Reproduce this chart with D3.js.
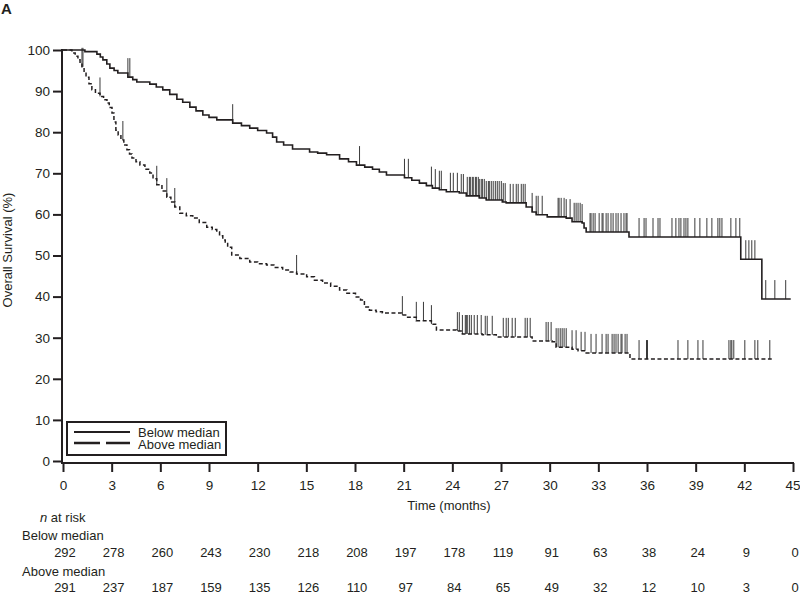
<!DOCTYPE html>
<html><head><meta charset="utf-8">
<script src="https://cdn.jsdelivr.net/npm/d3@7"></script>
<style>
html,body{margin:0;padding:0;background:#fff;}
svg{display:block;font-family:"Liberation Sans",Arial,sans-serif;}
</style></head>
<body>
<svg id="chart" width="800" height="595"></svg>
<script>
// ---- data ----
const xTicks = [0,3,6,9,12,15,18,21,24,27,30,33,36,39,42,45];
const yTicks = [0,10,20,30,40,50,60,70,80,90,100];

const belowTimes = [0,1.35,2.09,2.3,2.46,2.7,2.89,3.15,3.38,4.0,4.3,4.55,5.35,5.75,6.15,6.58,7.02,7.38,7.82,8.2,8.62,9.0,9.48,10.46,11.0,11.51,12.0,12.55,12.92,13.17,13.6,14.15,15.2,15.7,16.25,17.05,17.6,18.09,18.6,19.08,19.5,19.94,21.05,21.5,21.97,22.4,22.77,23.2,23.63,24.43,24.86,25.66,26.09,27.08,27.32,28.55,28.92,29.17,29.85,31.02,31.38,32.0,32.12,32.25,34.89,41.78,43.08];
const belowSurv  = [100,99.6,99.0,98.3,97.6,96.6,95.6,95.0,94.4,93.4,92.8,92.2,91.7,91.0,90.3,89.2,88.0,87.3,86.1,85.2,84.2,83.6,83.0,82.2,81.6,81.0,80.4,79.8,78.8,77.6,76.9,75.9,75.2,74.9,74.5,73.5,72.8,72.0,71.5,71.0,70.3,69.6,68.9,68.3,67.6,67.0,66.4,66.0,65.5,65.2,64.5,64.0,63.5,63.0,62.8,61.8,60.6,59.9,59.4,59.1,58.2,57.9,56.7,55.7,54.5,49.1,39.4];
const belowEnd = 44.86;

const aboveTimes = [0,0.55,0.75,0.92,1.05,1.17,1.3,1.42,1.6,1.78,2.0,2.28,2.5,2.71,2.85,3.02,3.14,3.26,3.4,3.57,3.75,3.94,4.1,4.25,4.5,4.74,5.05,5.35,5.55,5.78,6.1,6.4,6.65,6.89,7.2,7.6,8.0,8.4,8.86,9.2,9.48,9.65,9.85,10.0,10.15,10.4,10.9,11.51,12.0,12.55,13.0,13.54,14.0,14.4,15.02,15.5,16.0,16.5,17.05,17.5,18.03,18.34,18.58,18.89,19.3,19.69,20.86,21.17,21.78,22.71,23.02,24.25,24.62,25.85,26.71,28.92,30.15,30.4,31.38,31.75,32.25,34.95];
const aboveSurv  = [100,99.3,98.5,97.6,96.8,95.9,94.6,93.4,91.8,90.3,89.5,88.7,87.9,87.1,86.0,84.7,82.5,80.5,79.3,78.1,76.9,75.7,74.7,73.7,72.8,72.0,71.0,70.1,68.7,67.2,65.7,64.2,63.0,61.8,60.3,59.7,59.1,58.0,56.9,56.3,55.7,54.8,53.8,52.9,52.0,50.1,49.3,48.4,48.0,47.7,47.1,46.5,46.0,45.5,44.8,44.0,43.3,42.5,41.6,40.8,39.9,39.2,37.5,36.7,36.3,36.0,35.5,35.0,34.1,33.3,31.9,31.6,30.9,30.7,30.2,29.2,29.0,27.7,27.2,26.8,26.3,24.8];
const aboveEnd = 43.69;

const belowCensor = [4.0,4.12,10.46,18.28,21.05,21.29,22.71,22.95,23.2,23.32,23.88,24.06,24.31,24.55,24.68,24.92,25.05,25.11,25.23,25.29,25.42,25.48,25.6,25.66,25.78,25.85,25.97,26.09,26.22,26.28,26.4,26.52,26.65,26.77,26.89,27.02,27.14,27.26,27.57,27.75,27.94,28.06,28.25,28.37,28.49,28.92,29.17,29.29,29.54,30.52,30.58,30.71,30.89,31.02,31.26,31.51,31.63,31.75,31.88,32.0,32.49,32.55,32.68,32.8,33.05,33.23,33.29,33.48,33.6,33.78,33.91,34.09,34.22,34.4,34.58,34.71,34.77,35.51,35.82,35.94,36.37,36.68,36.8,37.54,37.78,37.97,38.09,38.28,38.4,38.52,38.95,39.26,39.69,40.0,40.37,40.49,40.62,41.17,41.48,41.72,42.09,42.28,42.46,42.65,43.32,43.88,44.55];
const aboveCensor = [1.17,1.23,2.28,3.69,5.78,6.4,6.89,14.4,20.92,21.78,22.22,22.71,24.31,24.43,24.62,24.8,24.86,24.92,25.05,25.17,25.35,25.54,25.78,26.03,26.15,26.46,27.14,27.32,27.45,27.69,27.88,28.49,28.62,28.8,29.78,29.91,30.09,30.4,30.52,30.65,30.77,30.89,31.02,31.38,31.63,31.94,32.18,32.55,32.86,33.23,33.48,33.6,33.85,33.97,34.09,34.22,34.4,34.46,34.65,34.77,35.51,35.97,36.03,37.91,38.52,39.14,39.45,41.05,41.17,41.23,41.35,42.03,42.65,42.83,43.57];

const riskTimes = [0,3,6,9,12,15,18,21,24,27,30,33,36,39,42,45];
const belowRisk = [292,278,260,243,230,218,208,197,178,119,91,63,38,24,9,0];
const aboveRisk = [291,237,187,159,135,126,110,97,84,65,49,32,12,10,3,0];

// ---- drawing ----
const ink = "#231f20";
const svg = d3.select("#chart");
const x = d3.scaleLinear().domain([0,45]).range([63,793]);
const y = d3.scaleLinear().domain([0,100]).range([461,50]);

svg.append("text").attr("x",1).attr("y",14).attr("font-size",15).attr("font-weight","bold").attr("fill",ink).text("A");

// axes
const yAxis = svg.append("g").attr("transform","translate(62,0)")
  .call(d3.axisLeft(y).tickValues(yTicks).tickSize(9).tickPadding(3).tickSizeOuter(0));
const xAxis = svg.append("g").attr("transform","translate(0,463)")
  .call(d3.axisBottom(x).tickValues(xTicks).tickSize(9).tickPadding(8).tickSizeOuter(0));
[yAxis,xAxis].forEach(g=>{
  g.select(".domain").attr("stroke",ink).attr("stroke-width",2);
  g.selectAll(".tick line").attr("stroke",ink).attr("stroke-width",2);
  g.selectAll(".tick text").attr("fill",ink).attr("font-size",13.5).attr("font-family","Liberation Sans, Arial, sans-serif");
});
yAxis.select(".domain").attr("d","M0,49V464");
xAxis.select(".domain").attr("d","M62,0H794");
xAxis.selectAll(".tick text").filter(d=>d===45).attr("text-anchor","end").attr("dx","7");

svg.append("text").attr("transform","translate(12,250) rotate(-90)").attr("text-anchor","middle")
  .attr("font-size",13).attr("fill",ink).text("Overall Survival (%)");
svg.append("text").attr("x",449).attr("y",510).attr("text-anchor","middle")
  .attr("font-size",13).attr("fill",ink).text("Time (months)");

function stepData(times, surv, end){
  const d = times.map((t,i)=>[t,surv[i]]);
  d.push([end, surv[surv.length-1]]);
  return d;
}
const line = d3.line().x(d=>x(d[0])).y(d=>y(d[1])).curve(d3.curveStepAfter);

function censorMarks(times, surv, cens){
  const bis = d3.bisector(d=>d).right;
  svg.append("g").selectAll("line").data(cens).join("line")
    .attr("x1",d=>x(d)).attr("x2",d=>x(d))
    .attr("y1",d=>y(surv[Math.max(0,bis(times,d)-1)]))
    .attr("y2",d=>y(surv[Math.max(0,bis(times,d)-1)])-19)
    .attr("stroke","#3a3a3a").attr("stroke-width",1);
}
censorMarks(aboveTimes, aboveSurv, aboveCensor);
censorMarks(belowTimes, belowSurv, belowCensor);

svg.append("path").datum(stepData(aboveTimes,aboveSurv,aboveEnd)).attr("d",line)
  .attr("fill","none").attr("stroke",ink).attr("stroke-width",1.5).attr("stroke-dasharray","4,2.5");
svg.append("path").datum(stepData(belowTimes,belowSurv,belowEnd)).attr("d",line)
  .attr("fill","none").attr("stroke",ink).attr("stroke-width",1.6);

// legend
const lg = svg.append("g");
lg.append("rect").attr("x",67).attr("y",422).attr("width",159).attr("height",33)
  .attr("fill","#fff").attr("stroke",ink).attr("stroke-width",2);
lg.append("line").attr("x1",74).attr("x2",130).attr("y1",432).attr("y2",432).attr("stroke",ink).attr("stroke-width",2);
lg.append("line").attr("x1",74).attr("x2",130).attr("y1",443).attr("y2",443).attr("stroke",ink).attr("stroke-width",2.5).attr("stroke-dasharray","26,6");
lg.append("text").attr("x",138).attr("y",436.5).attr("font-size",13).attr("fill",ink).text("Below median");
lg.append("text").attr("x",138).attr("y",449).attr("font-size",13).attr("fill",ink).text("Above median");

// at-risk table
const nr = svg.append("text").attr("x",40).attr("y",522).attr("font-size",13).attr("fill",ink);
nr.append("tspan").attr("font-style","italic").text("n");
nr.append("tspan").text(" at risk");
svg.append("text").attr("x",22).attr("y",540).attr("font-size",13).attr("fill",ink).text("Below median");
svg.append("text").attr("x",22).attr("y",576).attr("font-size",13).attr("fill",ink).text("Above median");
svg.append("g").selectAll("text").data(riskTimes).join("text")
  .attr("x",d=>x(d)+2).attr("y",557).attr("text-anchor","middle").attr("font-size",13).attr("fill",ink)
  .text((d,i)=>belowRisk[i]);
svg.append("g").selectAll("text").data(riskTimes).join("text")
  .attr("x",d=>x(d)+2).attr("y",592).attr("text-anchor","middle").attr("font-size",13).attr("fill",ink)
  .text((d,i)=>aboveRisk[i]);
</script>
</body></html>
